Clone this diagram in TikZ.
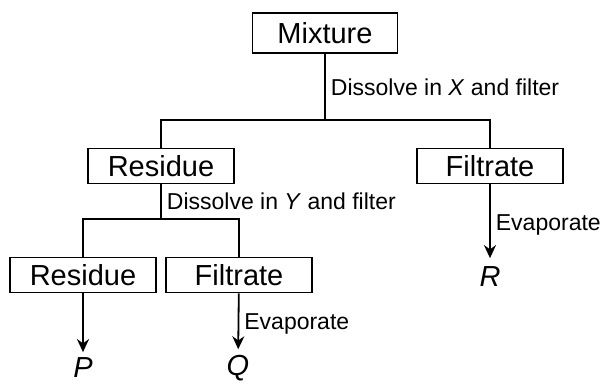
\documentclass[tikz,border=0pt]{standalone}
\usepackage{fontspec}
\setmainfont{Liberation Sans}
\usetikzlibrary{arrows.meta,positioning}
\newcommand{\stagefont}{\fontsize{29}{32}\selectfont}
\newcommand{\stepfont}{\fontsize{23}{26}\selectfont}

\begin{document}
\begin{tikzpicture}[x=1pt, y=-1pt, line width=1.8pt,
    every node/.style={font=\stepfont},
    stage/.style={draw, line width=1.8pt, minimum width=146pt, minimum height=35pt, inner sep=0pt, font=\stagefont},
    prod/.style={font=\stagefont\itshape, inner sep=0pt},
    note/.style={right, inner sep=5pt},
    >={Stealth[length=13pt, width=12pt]}]
  \useasboundingbox (0,0) rectangle (611,385);
  % boxes
  \node[stage, minimum width=145pt, minimum height=40pt] (mix) at (325,33) {Mixture};
  \node[stage] (res1) at (161,166) {Residue};
  \node[stage] (fil1) at (490,166) {Filtrate};
  \node[stage] (res2) at (83,275) {Residue};
  \node[stage] (fil2) at (239,275) {Filtrate};
  % products
  \node[prod] (P) at (83,368) {P};
  \node[prod] (Q) at (238,368) {Q};
  \node[prod] (R) at (490,277) {R};
  \coordinate (split1) at (325,120);
  \coordinate (split2) at (161,219);
  % first filtration
  \draw (mix.south) -- (split1) node[note, midway] {Dissolve in \textit{X} and filter};
  \draw (res1.north) |- (split1) -| (fil1.north);
  % second filtration
  \draw (res1.south) -- (split2) node[note, midway] {Dissolve in \textit{Y} and filter};
  \draw (res2.north) |- (split2) -| (fil2.north);
  % evaporation
  \draw[->, shorten >=5pt] (res2) -- (P);
  \draw[->, shorten >=5pt] (fil2) -- (Q) node[note, midway] {Evaporate};
  \draw[->, shorten >=8pt] (fil1) -- (R) node[note, midway] {Evaporate};
\end{tikzpicture}
\end{document}
